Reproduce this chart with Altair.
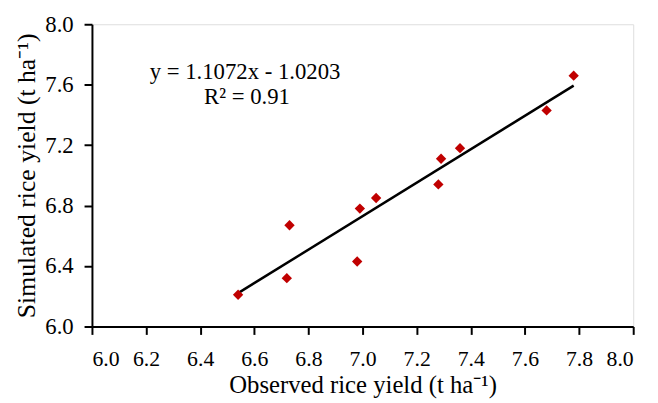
import altair as alt
import pandas as pd

observed = [6.54, 6.72, 6.73, 6.98, 6.99, 7.05, 7.28, 7.29, 7.36, 7.68, 7.78]
simulated = [6.21, 6.32, 6.67, 6.43, 6.78, 6.85, 6.94, 7.11, 7.18, 7.43, 7.66]
x_ticks = [6.0, 6.2, 6.4, 6.6, 6.8, 7.0, 7.2, 7.4, 7.6, 7.8, 8.0]
y_ticks = [6.0, 6.4, 6.8, 7.2, 7.6, 8.0]
eq_text = "y = 1.1072x - 1.0203"
r2_text = "R² = 0.91"

df = pd.DataFrame({"obs": observed, "sim": simulated})
FONT = "Liberation Serif"

xs = alt.Scale(domain=[6.0, 8.0], nice=False, zero=False)
ys = alt.Scale(domain=[6.0, 8.0], nice=False, zero=False)

xax = alt.Axis(values=x_ticks, format=".1f", grid=False, domainColor="black", tickColor="black",
               domainWidth=2, tickWidth=2, tickSize=8, labelFontSize=22, labelFont=FONT,
               labelColor="black", labelPadding=14,
               title="Observed rice yield (t ha⁻¹)", titleFont=FONT,
               titleFontSize=25, titleFontWeight="normal", titleColor="black",
               titleX=274, titleY=67, titleBaseline="alphabetic", titleAlign="center")
yax = alt.Axis(values=y_ticks, format=".1f", grid=False, domainColor="black", tickColor="black",
               domainWidth=2, tickWidth=2, tickSize=8, labelFontSize=23, labelFont=FONT,
               labelColor="black", labelPadding=11,
               title="Simulated rice yield (t ha⁻¹)", titleFont=FONT,
               titleFontSize=26, titleFontWeight="normal", titleColor="black",
               titleX=-58, titleY=153, titleBaseline="alphabetic", titleAlign="center", titleAngle=270)

base = alt.Chart(df)
pts = base.mark_point(shape="diamond", filled=True, color="#C00000", size=110, opacity=1).encode(
    x=alt.X("obs:Q", scale=xs, axis=xax),
    y=alt.Y("sim:Q", scale=ys, axis=yax),
)
line = base.transform_regression("obs", "sim").mark_line(color="black", strokeWidth=2.5).encode(
    x=alt.X("obs:Q", scale=xs),
    y=alt.Y("sim:Q", scale=ys),
)
t1 = alt.Chart(pd.DataFrame({"t": [eq_text]})).mark_text(
    font=FONT, fontSize=23, color="black", baseline="alphabetic", align="center").encode(
    text="t:N", x=alt.value(155), y=alt.value(55))
t2 = alt.Chart(pd.DataFrame({"t": [r2_text]})).mark_text(
    font=FONT, fontSize=23, color="black", baseline="alphabetic", align="center").encode(
    text="t:N", x=alt.value(157), y=alt.value(81))

chart = alt.layer(line, pts, t1, t2).properties(
    width=548, height=306,
    autosize=alt.AutoSizeParams(type="none"),
    padding={"left": 85, "top": 14, "right": 17, "bottom": 75},
).configure_view(stroke=None).configure(background="white")

chart.save("out.html", embed_options={"renderer": "svg", "actions": False})
